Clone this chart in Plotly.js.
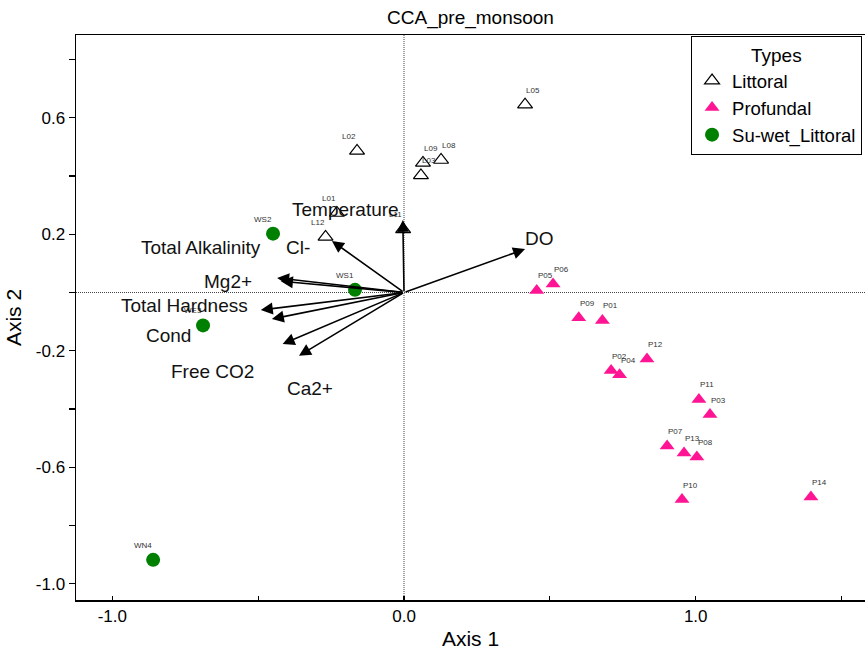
<!DOCTYPE html>
<html>
<head>
<meta charset="utf-8">
<script src="https://cdn.plot.ly/plotly-3.0.1.min.js"></script>
<style>html,body{margin:0;padding:0;background:#fff;overflow:hidden;}#chart{width:865px;height:660px;}</style>
</head>
<body>
<div id="chart"></div>
<script>
// Sample scores
const littoralLabels = ['L01','L02','L03','L05','L08','L09','L11','L12'];
const littoralX = [-0.230,-0.161,0.058,0.415,0.127,0.065,-0.003,-0.269];
const littoralY = [0.273,0.486,0.402,0.645,0.455,0.445,0.217,0.191];
const littoralSide = ['left','left','right','right','right','right','left','left'];

const profLabels = ['P01','P02','P03','P04','P05','P06','P07','P08','P09','P10','P11','P12','P13','P14'];
const profX = [0.680,0.710,1.049,0.739,0.455,0.511,0.902,1.004,0.599,0.953,1.011,0.833,0.960,1.395];
const profY = [-0.096,-0.268,-0.419,-0.282,0.007,0.029,-0.527,-0.565,-0.087,-0.711,-0.367,-0.228,-0.551,-0.702];
const profSide = ['right','right','right','right','right','right','right','right','right','right','right','right','right','right'];

const suwetLabels = ['WS1','WS2','WE3','WN4'];
const suwetX = [-0.168,-0.449,-0.689,-0.860];
const suwetY = [0.009,0.202,-0.113,-0.918];
const suwetSide = ['left','left','left','left'];

// Environmental vectors (biplot arrows)
const vecNames = ['Temperature','Total Alkalinity','Cl-','Mg2+','Total Hardness','Cond','Free CO2','Ca2+','DO'];
const vecX = [-0.004,-0.435,-0.247,-0.422,-0.491,-0.453,-0.416,-0.360,0.415];
const vecY = [0.249,0.050,0.177,0.039,-0.060,-0.091,-0.177,-0.217,0.149];
const vecLabX = [-0.199,-0.696,-0.365,-0.604,-0.751,-0.809,-0.658,-0.322,0.466];
const vecLabY = [0.285,0.156,0.156,0.039,-0.045,-0.148,-0.271,-0.331,0.184];

// Ticks
const xTickVals = [-1.0,-0.5,0.0,0.5,1.0,1.5];
const xTickText = ['-1.0','','0.0','','1.0',''];
const yTickVals = [-1.0,-0.8,-0.6,-0.4,-0.2,0.0,0.2,0.4,0.6,0.8];
const yTickText = ['-1.0','','-0.6','','-0.2','','0.2','','0.6',''];

const FONT = 'Liberation Sans, Arial, Helvetica, sans-serif';

const traces = [
  {type:'scatter', mode:'markers', name:'Littoral', x:littoralX, y:littoralY,
   marker:{symbol:'triangle-up', size:13, color:'white', line:{color:'black', width:1.2}}},
  {type:'scatter', mode:'markers', name:'Profundal', x:profX, y:profY,
   marker:{symbol:'triangle-up', size:13, color:'#FF1493', line:{width:0}}},
  {type:'scatter', mode:'markers', name:'Su-wet_Littoral', x:suwetX, y:suwetY,
   marker:{symbol:'circle', size:14, color:'#008000', line:{width:0}}}
];

const annotations = [];
function addPointLabels(labels, xs, ys, sides){
  labels.forEach((t,i)=>{
    const right = sides[i]==='right';
    annotations.push({x:xs[i], y:ys[i], xref:'x', yref:'y', text:t, showarrow:false,
      xanchor: right ? 'left' : 'right', yanchor:'bottom', yshift:8, xshift: right ? -1 : 1,
      font:{family:FONT, size:8, color:'#333333'}});
  });
}
addPointLabels(littoralLabels, littoralX, littoralY, littoralSide);
addPointLabels(profLabels, profX, profY, profSide);
addPointLabels(suwetLabels, suwetX, suwetY, suwetSide);

vecNames.forEach((n,i)=>{
  annotations.push({x:vecX[i], y:vecY[i], ax:0, ay:0, xref:'x', yref:'y', axref:'x', ayref:'y',
    text:'', showarrow:true, arrowhead:2, arrowsize:1.5, arrowwidth:1.6, arrowcolor:'black', standoff:0});
});
vecNames.forEach((n,i)=>{
  annotations.push({x:vecLabX[i], y:vecLabY[i], xref:'x', yref:'y', text:n, showarrow:false,
    xanchor:'center', yanchor:'middle', font:{family:FONT, size:19, color:'#111111'}});
});

const layout = {
  width:865, height:660,
  margin:{l:76, r:0, t:35, b:60, autoexpand:false},
  paper_bgcolor:'white', plot_bgcolor:'white',
  font:{family:FONT, color:'black'},
  title:{text:'CCA_pre_monsoon', font:{family:FONT, size:19, color:'black'},
         x:0.5, xref:'paper', xanchor:'center', y:0.973, yref:'container', yanchor:'middle'},
  xaxis:{range:[-1.1245,1.5804], tickmode:'array', tickvals:xTickVals, ticktext:xTickText,
         ticks:'inside', ticklen:4, tickwidth:1.2, tickcolor:'black',
         showline:true, linecolor:'black', linewidth:1.5, mirror:true,
         showgrid:false, zeroline:false, automargin:false,
         tickfont:{family:FONT, size:17, color:'black'},
         title:{text:'Axis 1', font:{family:FONT, size:21, color:'black'}, standoff:6}},
  yaxis:{range:[-1.0558,0.8841], tickmode:'array', tickvals:yTickVals, ticktext:yTickText,
         ticks:'outside', ticklen:6, tickwidth:1.2, tickcolor:'black',
         showline:true, linecolor:'black', linewidth:1.5,
         showgrid:false, zeroline:false, automargin:false,
         tickfont:{family:FONT, size:17, color:'black'},
         title:{text:'Axis 2', font:{family:FONT, size:21, color:'black'}, standoff:8}},
  shapes:[
    {type:'line', xref:'x', yref:'paper', x0:0, x1:0, y0:0, y1:1, line:{color:'#444444', width:1, dash:'1px,1px'}, layer:'below'},
    {type:'line', xref:'paper', yref:'y', x0:0, x1:1, y0:0, y1:0, line:{color:'#444444', width:1, dash:'1px,1px'}, layer:'below'}
  ],
  legend:{x:0.996, y:0.998, xanchor:'right', yanchor:'top', xref:'paper', yref:'paper',
          bgcolor:'white', bordercolor:'black', borderwidth:1.2,
          font:{family:FONT, size:18.5, color:'black'},
          title:{text:'Types', side:'top center', font:{family:FONT, size:19, color:'black'}},
          itemwidth:30, tracegroupgap:0},
  showlegend:true,
  annotations:annotations
};

Plotly.newPlot('chart', traces, layout, {displayModeBar:false, staticPlot:true});
</script>
</body>
</html>
